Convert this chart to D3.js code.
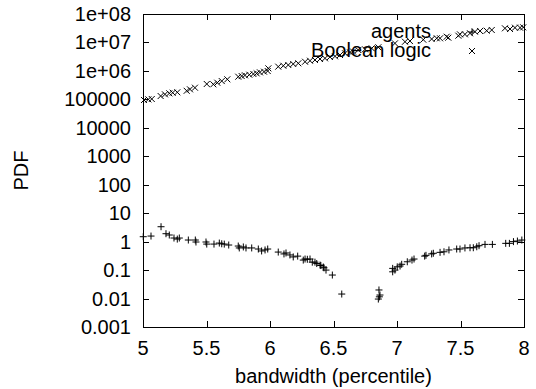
<!DOCTYPE html>
<html>
<head>
<meta charset="utf-8">
<script src="https://cdn.jsdelivr.net/npm/d3@7"></script>
<style>
  body { margin: 0; background: #fff; }
  text { font-family: "Liberation Sans", Arial, sans-serif; font-size: 20px; fill: #000; }
</style>
</head>
<body>
<script>
const width = 536,
  height = 389;
const margin = { top: 14, right: 12, bottom: 62, left: 143 };

// "agents" series (drawn with +)
const agentsX = [5.002, 5.063, 5.142, 5.181, 5.207, 5.244, 5.270, 5.286, 5.357, 5.412,
  5.417, 5.496, 5.502, 5.559, 5.601, 5.620, 5.640, 5.675, 5.750, 5.758,
  5.790, 5.811, 5.856, 5.908, 5.934, 5.961, 5.982, 6.065, 6.110, 6.126,
  6.157, 6.183, 6.218, 6.262, 6.276, 6.294, 6.315, 6.333, 6.354, 6.368,
  6.394, 6.400, 6.420, 6.425, 6.441, 6.491, 6.565, 6.858, 6.866, 6.853,
  6.861, 6.966, 6.966, 6.984, 7.002, 7.024, 7.037, 7.081, 7.118, 7.134,
  7.218, 7.228, 7.273, 7.286, 7.339, 7.370, 7.409, 7.470, 7.496, 7.535,
  7.575, 7.601, 7.628, 7.646, 7.693, 7.751, 7.856, 7.885, 7.917, 7.948, 7.983];
const agentsY = [1.49, 1.57, 3.34, 1.90, 1.71, 1.34, 1.23, 1.34, 1.14, 1.14,
  0.97, 0.97, 0.82, 0.82, 0.89, 0.84, 0.82, 0.76, 0.70, 0.60,
  0.65, 0.60, 0.60, 0.55, 0.47, 0.51, 0.55, 0.43, 0.37, 0.40,
  0.34, 0.29, 0.31, 0.225, 0.245, 0.24, 0.245, 0.19, 0.19, 0.17,
  0.15, 0.145, 0.128, 0.12, 0.10, 0.067, 0.0144, 0.020, 0.0133, 0.0096,
  0.0115, 0.115, 0.087, 0.10, 0.13, 0.139, 0.16, 0.196, 0.225, 0.245,
  0.31, 0.33, 0.37, 0.39, 0.42, 0.44, 0.51, 0.55, 0.55, 0.60,
  0.61, 0.61, 0.66, 0.72, 0.80, 0.80, 0.87, 0.87, 1.0, 1.05, 1.14];

// "Boolean logic" series (drawn with x)
const boolX = [5.008, 5.042, 5.069, 5.139, 5.173, 5.207, 5.234, 5.270, 5.344, 5.370,
  5.409, 5.502, 5.554, 5.585, 5.620, 5.664, 5.750, 5.777, 5.803, 5.837,
  5.869, 5.895, 5.921, 5.953, 5.982, 5.987, 6.065, 6.105, 6.144, 6.183,
  6.223, 6.276, 6.315, 6.354, 6.394, 6.433, 6.472, 6.512, 6.551, 6.591,
  6.630, 6.654, 6.695, 6.748, 6.801, 6.853, 6.984, 7.063, 7.102, 7.207,
  7.273, 7.313, 7.339, 7.391, 7.404, 7.483, 7.496, 7.535, 7.575, 7.614,
  7.654, 7.706, 7.746, 7.850, 7.890, 7.929, 7.969, 7.994];
const boolY = [9.5e4, 1.0e5, 1.03e5, 1.31e5, 1.5e5, 1.63e5, 1.71e5, 1.77e5, 2.0e5, 2.25e5,
  2.57e5, 3.47e5, 3.38e5, 3.85e5, 4.4e5, 5.07e5, 6.25e5, 6.6e5, 7.0e5, 7.35e5,
  7.8e5, 8.2e5, 8.9e5, 9.4e5, 9.9e5, 1.23e6, 1.41e6, 1.52e6, 1.61e6, 1.75e6,
  1.85e6, 2.1e6, 2.28e6, 2.42e6, 2.62e6, 2.77e6, 3.08e6, 3.26e6, 3.62e6, 4.16e6,
  4.5e6, 4.8e6, 5.43e6, 5.75e6, 6.23e6, 6.76e6, 9.3e6, 1.06e7, 1.12e7, 1.25e7,
  1.32e7, 1.40e7, 1.40e7, 1.59e7, 1.47e7, 1.73e7, 1.93e7, 1.93e7, 2.1e7, 2.39e7,
  2.53e7, 2.59e7, 2.74e7, 3.14e7, 2.97e7, 3.3e7, 3.3e7, 3.4e7];

const xTicks = [5, 5.5, 6, 6.5, 7, 7.5, 8];
const yTicks = [0.001, 0.01, 0.1, 1, 10, 100, 1000, 10000, 100000, 1e6, 1e7, 1e8];
const yTickLabels = ["0.001", "0.01", "0.1", "1", "10", "100", "1000", "10000", "100000", "1e+06", "1e+07", "1e+08"];

const svg = d3
  .select("body")
  .append("svg")
  .attr("width", width)
  .attr("height", height);

const x = d3.scaleLinear().domain([5, 8]).range([margin.left, width - margin.right]);
const y = d3.scaleLog().domain([0.001, 1e8]).range([height - margin.bottom, margin.top]);

// inward ticks on all four sides, like gnuplot's mirrored tics
const tickLen = 6;
const grid = svg.append("g").attr("stroke", "#000").attr("stroke-width", 1);
xTicks.forEach((t) => {
  const px = Math.round(x(t)) + 0.5;
  grid.append("line").attr("x1", px).attr("x2", px)
    .attr("y1", y(0.001)).attr("y2", y(0.001) - tickLen);
  grid.append("line").attr("x1", px).attr("x2", px)
    .attr("y1", y(1e8)).attr("y2", y(1e8) + tickLen);
});
yTicks.forEach((t) => {
  const py = Math.round(y(t)) + 0.5;
  grid.append("line").attr("x1", x(5)).attr("x2", x(5) + tickLen)
    .attr("y1", py).attr("y2", py);
  grid.append("line").attr("x1", x(8)).attr("x2", x(8) - tickLen)
    .attr("y1", py).attr("y2", py);
});

// border box
svg.append("rect")
  .attr("x", x(5) + 0.5)
  .attr("y", y(1e8) + 0.5)
  .attr("width", x(8) - x(5))
  .attr("height", y(0.001) - y(1e8))
  .attr("fill", "none")
  .attr("stroke", "#000")
  .attr("stroke-width", 1);

// tick labels
svg.append("g").selectAll("text")
  .data(xTicks)
  .join("text")
  .attr("x", (d) => x(d))
  .attr("y", height - margin.bottom + 28)
  .attr("text-anchor", "middle")
  .text((d) => d);

svg.append("g").selectAll("text")
  .data(yTicks)
  .join("text")
  .attr("x", margin.left - 12)
  .attr("y", (d) => y(d) + 7)
  .attr("text-anchor", "end")
  .text((d, i) => yTickLabels[i]);

// axis titles
svg.append("text")
  .attr("x", (x(5) + x(8)) / 2)
  .attr("y", 383)
  .attr("text-anchor", "middle")
  .text("bandwidth (percentile)");

svg.append("text")
  .attr("transform", `translate(28,${(y(0.001) + y(1e8)) / 2}) rotate(-90)`)
  .attr("text-anchor", "middle")
  .text("PDF");

// point symbols
const plus = (g, cx, cy) => {
  const s = 3.5;
  g.append("path")
    .attr("d", `M${cx - s},${cy}H${cx + s}M${cx},${cy - s}V${cy + s}`);
};
const cross = (g, cx, cy) => {
  const s = 3;
  g.append("path")
    .attr("d", `M${cx - s},${cy - s}L${cx + s},${cy + s}M${cx - s},${cy + s}L${cx + s},${cy - s}`);
};

const pts = svg.append("g").attr("stroke", "#000").attr("stroke-width", 1).attr("fill", "none");
agentsX.forEach((d, i) => plus(pts, x(d), y(agentsY[i])));
boolX.forEach((d, i) => cross(pts, x(d), y(boolY[i])));

// key
const key = [
  { label: "agents", symbol: plus, yy: 32 },
  { label: "Boolean logic", symbol: cross, yy: 51 }
];
key.forEach((k) => {
  svg.append("text")
    .attr("x", 431)
    .attr("y", k.yy + 6)
    .attr("text-anchor", "end")
    .text(k.label);
  k.symbol(pts, 472, k.yy);
});
</script>
</body>
</html>
